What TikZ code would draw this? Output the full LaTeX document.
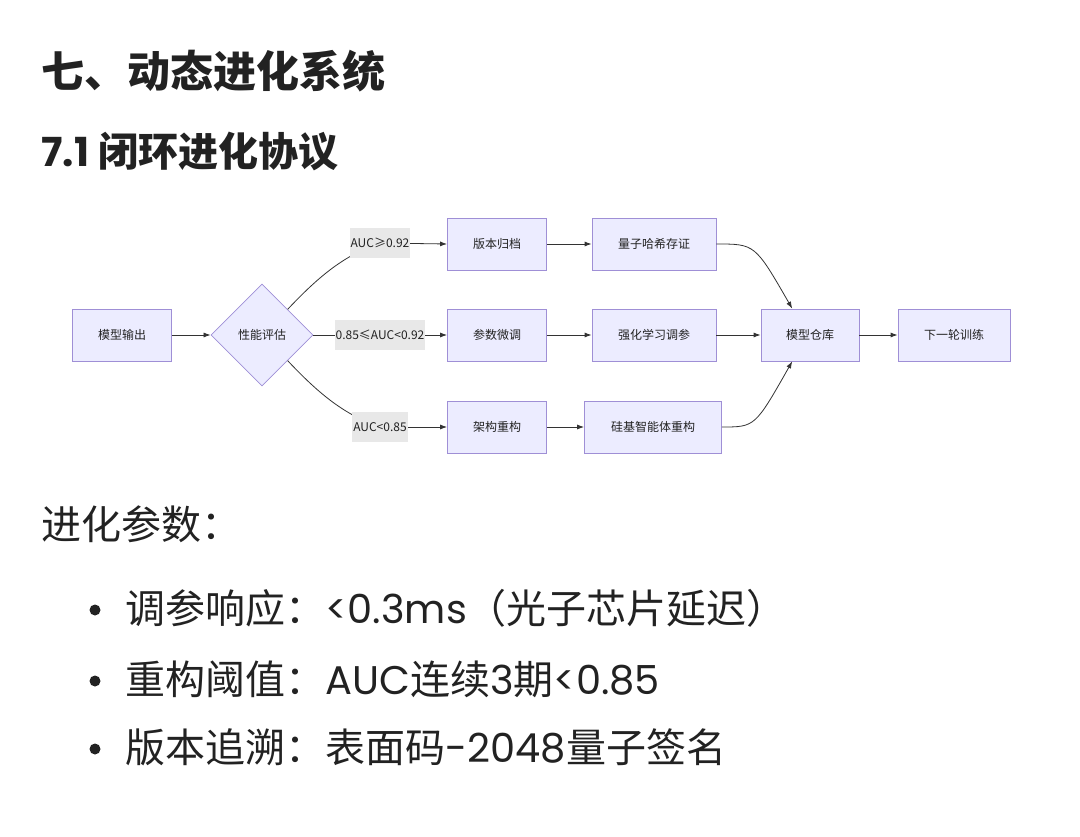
\documentclass[tikz,border=0pt]{standalone}
\usepackage{fontspec}
\setmainfont{Noto Sans CJK SC}
\newfontfamily\lat{Poppins}
\usetikzlibrary{shapes.geometric,calc,arrows.meta}
\tikzset{
 box/.style={draw=boxline,fill=boxfill,line width=0.8pt,minimum height=52pt,font=\fontsize{12}{14}\selectfont,inner sep=0pt},
 lab/.style={fill=labfill,font=\fontsize{12}{14}\selectfont,inner sep=1pt,minimum height=30pt},
 edge/.style={draw=edgec,line width=0.8pt,-{Latex[length=7pt,width=5pt]}},
 line/.style={draw=edgec,line width=0.8pt},
}
\definecolor{boxfill}{HTML}{ECECFF}
\definecolor{boxline}{HTML}{9F8FD6}
\definecolor{labfill}{HTML}{E8E8E8}
\definecolor{edgec}{HTML}{333333}
\definecolor{txt}{HTML}{222222}
\begin{document}
\begin{tikzpicture}[x=1pt,y=-1pt,color=txt]
\useasboundingbox (0,0) rectangle (1080,837);
\node[anchor=base west,font=\fontsize{43}{48}\selectfont\bfseries] (t1) at (38,88) {七、动态进化系统};
\node[anchor=base west,font=\fontsize{40}{46}\selectfont\bfseries] (t2) at (38,167) {{\lat 7.1} 闭环进化协议};
\node[box,minimum width=99pt] (out) at (122,335) {模型输出};
\node[draw=boxline,fill=boxfill,line width=0.8pt,diamond,minimum width=102pt,minimum height=102pt,inner sep=0pt,font=\fontsize{12}{14}\selectfont] (eval) at (262,335) {性能评估};
\node[box,minimum width=99pt] (a1) at (497,244) {版本归档};
\node[box,minimum width=99pt] (a2) at (497,335) {参数微调};
\node[box,minimum width=99pt] (a3) at (497,427) {架构重构};
\node[box,minimum width=124pt] (b1) at (654,244) {量子哈希存证};
\node[box,minimum width=124pt] (b2) at (654,335) {强化学习调参};
\node[box,minimum width=137pt] (b3) at (653,427) {硅基智能体重构};
\node[box,minimum width=98pt] (repo) at (810,335) {模型仓库};
\node[box,minimum width=112pt] (next) at (954,335) {下一轮训练};
\draw[edge] (out) -- (eval);
\coordinate (l1) at (380,243);
\coordinate (l2) at (380,335);
\coordinate (l3) at (380,427);
\draw[line] (eval.north east) .. controls (320,275) and (345,255) .. (l1);
\draw[edge] (l1) -- (a1.west);
\draw[line] (eval.east) -- (l2);
\draw[edge] (l2) -- (a2.west);
\draw[line] (eval.south east) .. controls (320,395) and (345,415) .. (l3);
\draw[edge] (l3) -- (a3.west);
\node[lab] (n1) at (l1) {AUC≥0.92};
\node[lab] (n2) at (l2) {0.85≤AUC<0.92};
\node[lab] (n3) at (l3) {AUC<0.85};
\draw[edge] (a1) -- (b1);
\draw[edge] (a2) -- (b2);
\draw[edge] (a3) -- (b3);
\coordinate (rt) at ($(repo.north west)!0.32!(repo.north east)$);
\coordinate (rb) at ($(repo.south west)!0.32!(repo.south east)$);
\draw[edge] (b1.east) .. controls (755,244) .. (rt);
\draw[edge] (b2) -- (repo);
\draw[edge] (b3.east) .. controls (755,427) .. (rb);
\draw[edge] (repo) -- (next);
\node[anchor=base west,font=\fontsize{40}{46}\selectfont] (h) at (38,539) {进化参数：};
\foreach \y/\t [count=\i] in {623/{调参响应：{\lat <0.3ms}（光子芯片延迟）},694/{重构阈值：{\lat AUC}连续{\lat 3}期{\lat <0.85}},762/{版本追溯：表面码{\lat -2048}量子签名}}{
  \fill (95,\y-13) circle (5.5pt);
  \node[anchor=base west,font=\fontsize{40}{46}\selectfont] (li\i) at (122,\y) {\t};
}
\end{tikzpicture}
\end{document}
